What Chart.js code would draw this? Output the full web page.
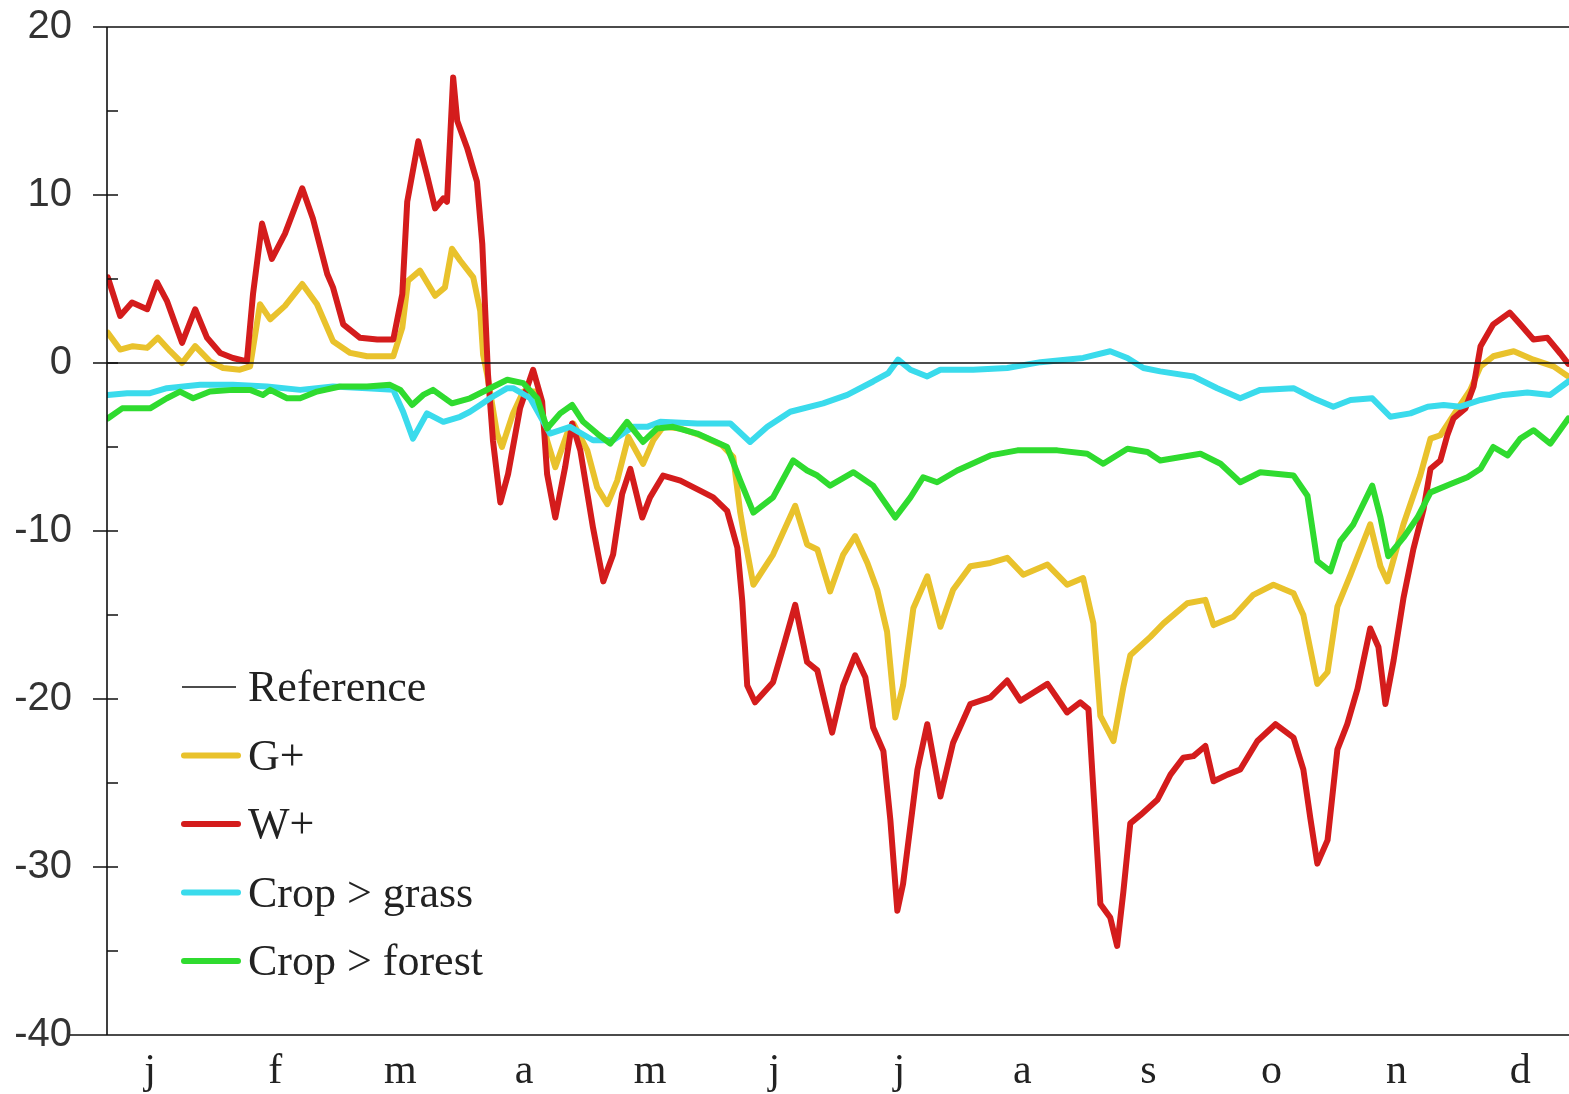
<!DOCTYPE html>
<html>
<head>
<meta charset="utf-8">
<script src="https://cdn.jsdelivr.net/npm/chart.js@4.4.1/dist/chart.umd.min.js"></script>
<style>
  html, body { margin: 0; padding: 0; background: #fff; overflow: hidden; }
  canvas { display: block; }
</style>
</head>
<body>
<canvas id="chart" width="1610" height="1094"></canvas>
<script>
// Month labels along the year (day-of-year positions)
const monthLabels = ['j', 'f', 'm', 'a', 'm', 'j', 'j', 'a', 's', 'o', 'n', 'd'];
const monthDays = [10.5, 41.0, 71.5, 101.7, 132.4, 162.7, 193.2, 223.2, 253.9, 283.9, 314.4, 344.6];

// Reference line
const refDays = [0, 365];
const refValues = [0, 0];

// G+
const gPlusDays = [0.2, 3.2, 6.3, 9.8, 12.4, 15.4, 18.3, 21.5, 25.1, 28.3, 32.4, 34.9, 37.3, 39.8, 43.4, 47.6,
  51.2, 55.1, 59.3, 63.4, 69.8, 72.0, 73.4, 76.3, 80.0, 82.4, 84.1, 86.1, 89.3, 91.0, 91.7, 92.7,
  95.1, 96.3, 99.0, 101.5, 104.9, 107.3, 109.3, 112.2, 113.7, 117.1, 119.5, 122.0, 124.4, 127.1, 130.7, 133.2,
  135.6, 139.8, 144.6, 150.0, 152.7, 154.4, 155.6, 157.6, 162.4, 167.8, 170.7, 173.2, 176.3, 179.5, 182.4, 185.4,
  187.8, 190.2, 192.2, 194.1, 196.6, 200.0, 203.2, 206.3, 210.5, 215.4, 219.5, 223.4, 229.3, 234.1, 238.0, 240.5,
  242.2, 245.4, 247.8, 249.5, 254.4, 257.6, 263.4, 267.8, 269.8, 274.6, 279.5, 284.4, 289.3, 291.7, 295.1, 297.6,
  300.0, 303.2, 308.0, 310.5, 312.2, 316.1, 320.2, 322.7, 325.1, 328.3, 332.4, 334.9, 338.0, 343.0, 347.8, 352.7,
  356.3];
const gPlusValues = [1.8, 0.8, 1.0, 0.9, 1.5, 0.7, 0.0, 1.0, 0.1, -0.3, -0.4, -0.2, 3.5, 2.6, 3.4, 4.7,
  3.5, 1.3, 0.6, 0.4, 0.4, 2.1, 4.9, 5.5, 4.0, 4.5, 6.8, 6.1, 5.1, 3.1, 0.5, -0.7,
  -4.2, -5.0, -3.0, -1.7, -1.7, -4.6, -6.2, -4.2, -3.6, -5.2, -7.4, -8.4, -7.0, -4.4, -6.0, -4.6,
  -3.8, -3.9, -4.3, -4.9, -5.6, -8.9, -10.6, -13.2, -11.4, -8.5, -10.8, -11.1, -13.6, -11.4, -10.3, -11.9,
  -13.5, -16.0, -21.1, -19.2, -14.6, -12.7, -15.7, -13.5, -12.1, -11.9, -11.6, -12.6, -12.0, -13.2, -12.8, -15.5,
  -21.0, -22.5, -19.3, -17.4, -16.3, -15.5, -14.3, -14.1, -15.6, -15.1, -13.8, -13.2, -13.7, -15.0, -19.1, -18.4,
  -14.5, -12.6, -9.6, -12.1, -13.0, -9.6, -6.7, -4.5, -4.3, -3.1, -1.6, -0.2, 0.4, 0.7, 0.2, -0.2,
  -0.8];

// W+
const wPlusDays = [0.2, 3.2, 6.1, 9.8, 12.2, 14.6, 18.3, 21.5, 24.4, 27.6, 30.7, 34.1, 35.6, 37.8, 40.2, 43.4,
  47.6, 50.2, 53.7, 55.1, 57.6, 61.7, 65.9, 69.8, 72.0, 73.2, 75.9, 78.0, 80.0, 82.0, 82.9, 84.4,
  85.4, 87.8, 90.2, 91.5, 92.9, 94.1, 95.9, 97.8, 100.7, 103.9, 106.1, 107.3, 109.3, 111.7, 113.4, 115.4,
  118.5, 121.0, 123.4, 125.6, 127.6, 130.5, 132.4, 135.6, 139.8, 144.6, 147.8, 151.2, 153.7, 154.9, 156.1, 158.0,
  162.4, 164.9, 167.8, 170.7, 173.2, 176.8, 179.5, 182.4, 184.9, 186.8, 189.3, 191.0, 192.7, 194.1, 197.6, 200.0,
  203.2, 206.3, 210.5, 215.4, 219.5, 222.7, 229.3, 234.1, 237.3, 239.3, 240.5, 242.2, 244.6, 246.3, 247.8, 249.5,
  252.0, 256.1, 259.3, 262.4, 264.9, 267.8, 269.8, 273.2, 276.3, 280.5, 284.9, 289.3, 291.7, 293.4, 295.1, 297.6,
  300.0, 302.4, 304.9, 308.0, 310.0, 311.7, 313.7, 316.1, 318.5, 321.0, 322.7, 325.1, 326.8, 328.3, 331.2, 333.2,
  334.9, 338.0, 342.0, 344.6, 347.8, 351.2, 354.4, 356.3];
const wPlusValues = [5.1, 2.8, 3.6, 3.2, 4.8, 3.7, 1.2, 3.2, 1.5, 0.6, 0.3, 0.1, 4.1, 8.3, 6.2, 7.7,
  10.4, 8.6, 5.3, 4.5, 2.3, 1.5, 1.4, 1.4, 4.1, 9.6, 13.2, 11.2, 9.2, 9.8, 9.6, 17.0,
  14.4, 12.8, 10.8, 7.1, -0.7, -4.6, -8.3, -6.6, -2.7, -0.4, -2.3, -6.6, -9.2, -6.2, -3.6, -5.2,
  -9.8, -13.0, -11.4, -7.8, -6.3, -9.2, -8.0, -6.7, -7.0, -7.6, -8.0, -8.8, -11.0, -14.2, -19.2, -20.2,
  -19.0, -16.9, -14.4, -17.8, -18.3, -22.0, -19.2, -17.4, -18.7, -21.7, -23.1, -27.2, -32.6, -31.0, -24.2, -21.5,
  -25.8, -22.6, -20.3, -19.9, -18.9, -20.1, -19.1, -20.8, -20.2, -20.6, -25.4, -32.2, -33.0, -34.7, -31.5, -27.4,
  -26.9, -26.0, -24.5, -23.5, -23.4, -22.8, -24.9, -24.5, -24.2, -22.5, -21.5, -22.3, -24.2, -27.1, -29.8, -28.4,
  -23.0, -21.5, -19.4, -15.8, -16.9, -20.3, -17.7, -14.0, -11.1, -8.7, -6.3, -5.8, -4.3, -3.3, -2.7, -1.4,
  1.0, 2.3, 3.0, 2.3, 1.4, 1.5, 0.55, -0.05];

// Crop > grass
const grassDays = [0.2, 4.9, 10.5, 14.6, 22.7, 30.7, 39.0, 47.1, 55.1, 63.4, 69.8, 72.2, 74.6, 78.0, 82.0, 86.1,
  88.5, 91.0, 93.4, 97.6, 99.0, 103.2, 108.0, 112.9, 118.5, 123.4, 128.3, 131.7, 134.9, 143.9, 152.0, 156.8,
  161.0, 166.6, 174.6, 180.5, 186.8, 190.5, 192.9, 195.9, 200.0, 203.2, 211.2, 219.5, 227.6, 238.0, 244.6, 248.8,
  252.7, 256.8, 264.9, 270.7, 276.3, 281.2, 289.3, 294.1, 299.0, 303.2, 308.5, 312.9, 317.8, 322.0, 325.9, 330.0,
  334.9, 340.5, 346.3, 351.9, 356.3];
const grassValues = [-1.9, -1.8, -1.8, -1.5, -1.3, -1.3, -1.4, -1.6, -1.4, -1.5, -1.6, -2.9, -4.5, -3.0, -3.5, -3.2,
  -2.9, -2.5, -2.1, -1.5, -1.5, -2.1, -4.2, -3.8, -4.6, -4.6, -3.8, -3.8, -3.5, -3.6, -3.6, -4.7,
  -3.8, -2.9, -2.4, -1.9, -1.1, -0.6, 0.2, -0.4, -0.8, -0.4, -0.4, -0.3, 0.05, 0.3, 0.7, 0.3,
  -0.3, -0.5, -0.8, -1.5, -2.1, -1.6, -1.5, -2.1, -2.6, -2.2, -2.1, -3.2, -3.0, -2.6, -2.5, -2.6,
  -2.2, -1.9, -1.75, -1.9, -1.1];

// Crop > forest
const forestDays = [0.2, 3.7, 7.3, 10.5, 14.6, 17.8, 21.0, 25.1, 30.7, 34.9, 38.0, 39.8, 43.9, 47.1, 51.2, 56.8,
  63.4, 69.0, 71.5, 74.4, 77.1, 79.5, 84.1, 88.5, 93.4, 97.6, 101.5, 104.9, 107.3, 110.5, 113.4, 116.1,
  119.5, 122.7, 126.8, 130.7, 134.1, 138.0, 143.9, 151.2, 154.4, 157.6, 162.4, 167.3, 170.7, 173.2, 176.3, 182.0,
  186.8, 192.2, 195.9, 199.0, 202.4, 207.3, 215.4, 222.0, 231.7, 239.0, 242.9, 248.8, 253.7, 256.8, 266.6, 271.5,
  276.3, 281.2, 289.3, 292.7, 295.1, 298.3, 300.7, 303.9, 308.5, 310.5, 312.4, 316.1, 319.5, 322.7, 327.6, 331.7,
  334.9, 338.0, 341.5, 344.6, 347.8, 351.9, 356.3];
const forestValues = [-3.3, -2.7, -2.7, -2.7, -2.1, -1.7, -2.1, -1.7, -1.6, -1.6, -1.9, -1.6, -2.1, -2.1, -1.7, -1.4,
  -1.4, -1.3, -1.6, -2.5, -1.9, -1.6, -2.4, -2.1, -1.5, -1.0, -1.2, -2.1, -3.9, -3.0, -2.5, -3.5,
  -4.2, -4.8, -3.5, -4.7, -3.9, -3.8, -4.2, -5.0, -7.0, -8.9, -8.0, -5.8, -6.4, -6.7, -7.3, -6.5,
  -7.3, -9.2, -8.0, -6.8, -7.1, -6.4, -5.5, -5.2, -5.2, -5.4, -6.0, -5.1, -5.3, -5.8, -5.4, -6.0,
  -7.1, -6.5, -6.7, -7.9, -11.8, -12.4, -10.6, -9.6, -7.3, -9.2, -11.5, -10.4, -9.2, -7.7, -7.2, -6.8,
  -6.3, -5.0, -5.5, -4.5, -4.0, -4.8, -3.3];

const toPoints = (days, values) => days.map((d, i) => ({ x: d, y: values[i] }));

// Axis frame with inward minor ticks and outward major ticks
const framePlugin = {
  id: 'frame',
  afterDraw(chart) {
    const ctx = chart.ctx;
    const area = chart.chartArea;
    const yScale = chart.scales.y;
    const majors = yScale.ticks.map(t => t.value);
    ctx.save();
    ctx.strokeStyle = '#111';
    ctx.lineWidth = 1.6;
    ctx.beginPath();
    ctx.moveTo(area.left, area.top);
    ctx.lineTo(area.left, area.bottom);
    ctx.moveTo(area.left - 14, area.top);
    ctx.lineTo(area.right, area.top);
    ctx.moveTo(area.left - 37, area.bottom);
    ctx.lineTo(area.right, area.bottom);
    majors.forEach(v => {
      const p = yScale.getPixelForValue(v);
      ctx.moveTo(area.left - 14, p);
      ctx.lineTo(area.left + 11, p);
      const m = yScale.getPixelForValue(v + 5);
      if (v + 5 < yScale.max) {
        ctx.moveTo(area.left, m);
        ctx.lineTo(area.left + 11, m);
      }
    });
    ctx.stroke();
    ctx.restore();
  }
};

// Legend drawn inside the plot, lower left
const legendPlugin = {
  id: 'insideLegend',
  afterDraw(chart) {
    const ctx = chart.ctx;
    ctx.save();
    ctx.font = '44px "Liberation Serif", "Times New Roman", serif';
    ctx.fillStyle = '#222';
    ctx.textBaseline = 'alphabetic';
    chart.data.datasets.forEach((ds, i) => {
      const y = 687 + i * 68.5;
      ctx.strokeStyle = ds.borderColor;
      ctx.lineWidth = i === 0 ? 1.6 : 6;
      ctx.lineCap = i === 0 ? 'butt' : 'round';
      ctx.beginPath();
      ctx.moveTo(i === 0 ? 182 : 184, y);
      ctx.lineTo(i === 0 ? 236 : 238, y);
      ctx.stroke();
      ctx.fillText(ds.label, 248, y + 14);
    });
    ctx.restore();
  }
};

new Chart(document.getElementById('chart'), {
  type: 'line',
  data: {
    datasets: [
      { label: 'Reference', data: toPoints(refDays, refValues), borderColor: '#111', borderWidth: 1.6, order: 0 },
      { label: 'G+', data: toPoints(gPlusDays, gPlusValues), borderColor: '#e9c22c', borderWidth: 6, order: 4 },
      { label: 'W+', data: toPoints(wPlusDays, wPlusValues), borderColor: '#d41c1c', borderWidth: 6, order: 3 },
      { label: 'Crop > grass', data: toPoints(grassDays, grassValues), borderColor: '#3adbec', borderWidth: 6, order: 2 },
      { label: 'Crop > forest', data: toPoints(forestDays, forestValues), borderColor: '#2fdb2f', borderWidth: 6, order: 1 }
    ]
  },
  options: {
    responsive: false,
    animation: false,
    devicePixelRatio: 1,
    layout: { padding: { top: 27, right: 6, left: 0, bottom: 0 } },
    elements: {
      point: { radius: 0, hoverRadius: 0 },
      line: { tension: 0, borderJoinStyle: 'round', borderCapStyle: 'round', fill: false }
    },
    plugins: {
      legend: { display: false },
      tooltip: { enabled: false }
    },
    scales: {
      x: {
        type: 'linear',
        min: 0,
        max: 365,
        afterFit: (scale) => {
          scale.height = 59;
          scale.paddingLeft = 0;
          scale.paddingRight = 0;
        },
        afterBuildTicks: (scale) => { scale.ticks = monthDays.map(v => ({ value: v })); },
        grid: { display: false, drawTicks: false },
        border: { display: false },
        ticks: {
          autoSkip: false,
          maxRotation: 0,
          padding: 12,
          color: '#222',
          font: { family: '"Liberation Serif", "Times New Roman", serif', size: 42 },
          callback: (value, index) => monthLabels[index]
        }
      },
      y: {
        min: -40,
        max: 20,
        afterFit: (scale) => {
          scale.width = 107;
          scale.paddingTop = 0;
          scale.paddingBottom = 0;
        },
        grid: { display: false, drawTicks: false },
        border: { display: false },
        ticks: {
          stepSize: 10,
          padding: 35,
          color: '#333',
          font: { family: '"Liberation Sans", Arial, sans-serif', size: 40 }
        }
      }
    }
  },
  plugins: [framePlugin, legendPlugin]
});
</script>
</body>
</html>
